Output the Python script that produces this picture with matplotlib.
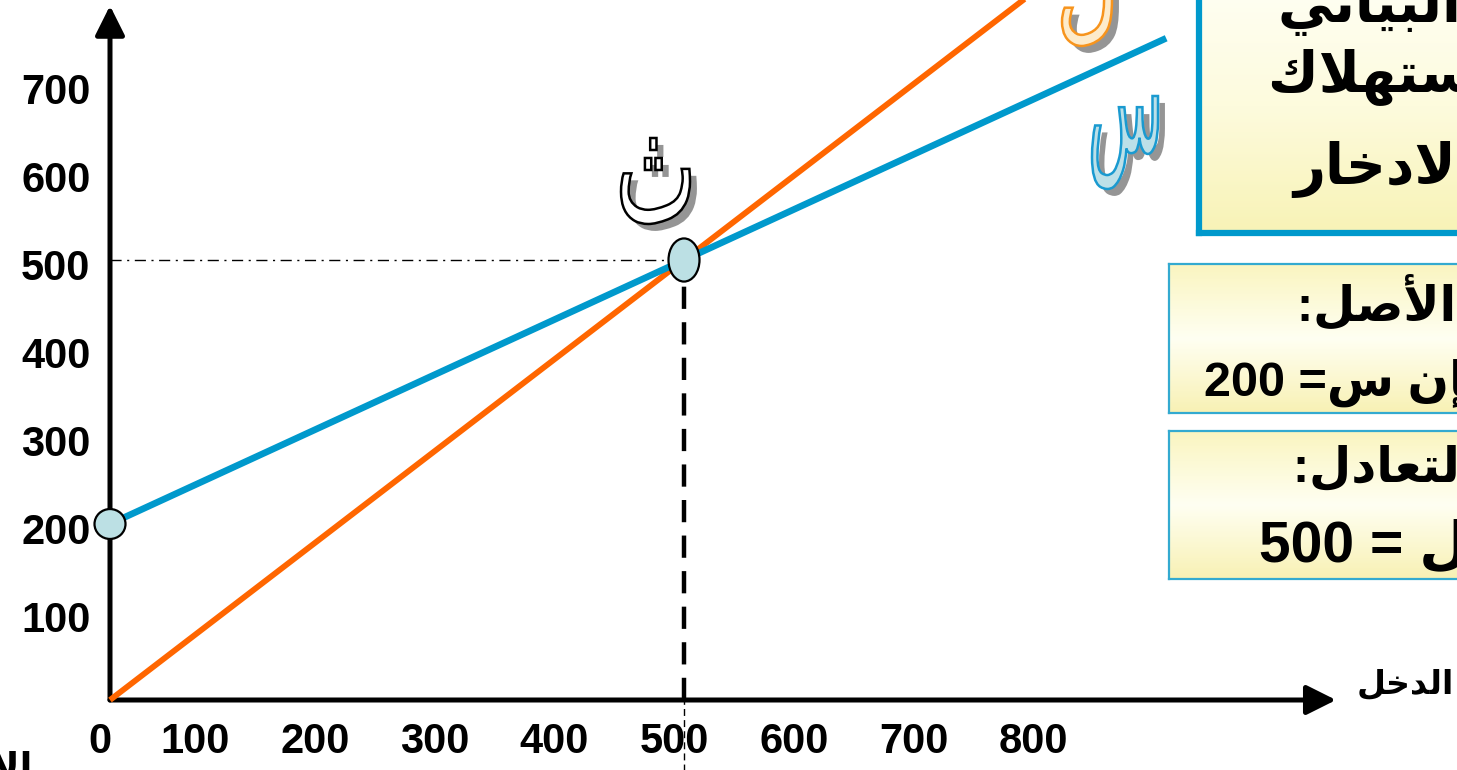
import re
import numpy as np
import matplotlib
matplotlib.use("Agg")
import matplotlib.pyplot as plt
import matplotlib.patheffects as pe
from matplotlib.patches import Ellipse, PathPatch
from matplotlib.textpath import TextPath
from matplotlib.font_manager import FontProperties
from matplotlib.transforms import offset_copy, Affine2D

# ---------------- data ----------------
income = [0, 500, 920]            # الدخل
consumption = [200, 500, 752]     # الاستهلاك  (س)
line45_x = [0, 810]               # خط 45 درجة (ل)
line45_y = [0, 810]
origin_pt = (0, 200)
breakeven_pt = (500, 500)
x_ticks = [0, 100, 200, 300, 400, 500, 600, 700, 800]
y_ticks = [100, 200, 300, 400, 500, 600, 700]

title_lines = ["التمثيل البياني", "لدالتي الاستهلاك", "والادخار"]
box2_lines = ["نقطة الأصل:", "عندما ل = 0 فإن س= 200"]
box3_lines = ["نقطة التعادل:", "س = ل = 500"]
x_label = "الدخل"
y_label = "الاستهلاك"
curve_letters = {"breakeven": "ث", "consumption": "س", "income": "ل"}

# ---------------- simple Arabic shaping ----------------
FORMS = {
    '\u0621': ('\uFE80', None, None, None),
    '\u0622': ('\uFE81', '\uFE82', None, None),
    '\u0623': ('\uFE83', '\uFE84', None, None),
    '\u0624': ('\uFE85', '\uFE86', None, None),
    '\u0625': ('\uFE87', '\uFE88', None, None),
    '\u0626': ('\uFE89', '\uFE8A', '\uFE8B', '\uFE8C'),
    '\u0627': ('\uFE8D', '\uFE8E', None, None),
    '\u0628': ('\uFE8F', '\uFE90', '\uFE91', '\uFE92'),
    '\u0629': ('\uFE93', '\uFE94', None, None),
    '\u062A': ('\uFE95', '\uFE96', '\uFE97', '\uFE98'),
    '\u062B': ('\uFE99', '\uFE9A', '\uFE9B', '\uFE9C'),
    '\u062C': ('\uFE9D', '\uFE9E', '\uFE9F', '\uFEA0'),
    '\u062D': ('\uFEA1', '\uFEA2', '\uFEA3', '\uFEA4'),
    '\u062E': ('\uFEA5', '\uFEA6', '\uFEA7', '\uFEA8'),
    '\u062F': ('\uFEA9', '\uFEAA', None, None),
    '\u0630': ('\uFEAB', '\uFEAC', None, None),
    '\u0631': ('\uFEAD', '\uFEAE', None, None),
    '\u0632': ('\uFEAF', '\uFEB0', None, None),
    '\u0633': ('\uFEB1', '\uFEB2', '\uFEB3', '\uFEB4'),
    '\u0634': ('\uFEB5', '\uFEB6', '\uFEB7', '\uFEB8'),
    '\u0635': ('\uFEB9', '\uFEBA', '\uFEBB', '\uFEBC'),
    '\u0636': ('\uFEBD', '\uFEBE', '\uFEBF', '\uFEC0'),
    '\u0637': ('\uFEC1', '\uFEC2', '\uFEC3', '\uFEC4'),
    '\u0638': ('\uFEC5', '\uFEC6', '\uFEC7', '\uFEC8'),
    '\u0639': ('\uFEC9', '\uFECA', '\uFECB', '\uFECC'),
    '\u063A': ('\uFECD', '\uFECE', '\uFECF', '\uFED0'),
    '\u0641': ('\uFED1', '\uFED2', '\uFED3', '\uFED4'),
    '\u0642': ('\uFED5', '\uFED6', '\uFED7', '\uFED8'),
    '\u0643': ('\uFED9', '\uFEDA', '\uFEDB', '\uFEDC'),
    '\u0644': ('\uFEDD', '\uFEDE', '\uFEDF', '\uFEE0'),
    '\u0645': ('\uFEE1', '\uFEE2', '\uFEE3', '\uFEE4'),
    '\u0646': ('\uFEE5', '\uFEE6', '\uFEE7', '\uFEE8'),
    '\u0647': ('\uFEE9', '\uFEEA', '\uFEEB', '\uFEEC'),
    '\u0648': ('\uFEED', '\uFEEE', None, None),
    '\u0649': ('\uFEEF', '\uFEF0', None, None),
    '\u064A': ('\uFEF1', '\uFEF2', '\uFEF3', '\uFEF4'),
}
LAMALEF = {'\u0622': ('\uFEF5', '\uFEF6'), '\u0623': ('\uFEF7', '\uFEF8'),
           '\u0625': ('\uFEF9', '\uFEFA'), '\u0627': ('\uFEFB', '\uFEFC')}


def _dual(c):
    return c in FORMS and FORMS[c][2] is not None


def shape(s):
    out = []
    n = len(s)
    i = 0
    while i < n:
        c = s[i]
        if c not in FORMS:
            out.append(c)
            i += 1
            continue
        prev = s[i - 1] if i > 0 else None
        jp = prev is not None and _dual(prev)
        if c == '\u0644' and i + 1 < n and s[i + 1] in LAMALEF:
            iso, fin = LAMALEF[s[i + 1]]
            out.append(fin if jp else iso)
            i += 2
            continue
        nxt = s[i + 1] if i + 1 < n else None
        jn = _dual(c) and nxt is not None and nxt in FORMS
        iso, fin, ini, med = FORMS[c]
        if jp and jn:
            out.append(med)
        elif jp:
            out.append(fin)
        elif jn:
            out.append(ini)
        else:
            out.append(iso)
        i += 1
    return ''.join(out)


def ar(s):
    sh = shape(s)
    runs = re.findall(r'[0-9A-Za-z.]+|[^0-9A-Za-z.]+', sh)
    return ''.join(r if re.match(r'[0-9A-Za-z]', r) else r[::-1]
                   for r in reversed(runs))


# ---------------- figure ----------------
W, H = 1457, 770
fig = plt.figure(figsize=(W / 100, H / 100), dpi=100)
fig.patch.set_facecolor('white')

SX, SY = 1.148, 0.88     # px per data unit
OX, OY = 110, 700        # pixel position of origin (top-left pixel coords)
ax = fig.add_axes([0, 0, 1, 1])
ax.set_xlim(-OX / SX, (W - OX) / SX)
ax.set_ylim((OY - H) / SY, OY / SY)
ax.axis('off')

FONT = ['Liberation Sans', 'DejaVu Sans']
AR_FONT = ['DejaVu Sans']


def px(x, y):
    """pixel (top-left origin) -> figure fraction"""
    return x / W, 1 - y / H


ORANGE = '#FF6600'
BLUE = '#0099CC'
PT_FILL = '#BCE0E4'

# reference lines
ax.plot([0, breakeven_pt[0]], [breakeven_pt[1], breakeven_pt[1]], color='black',
        lw=1.0, ls=(0, (8, 4, 1.5, 4)), zorder=2)
ax.plot([breakeven_pt[0], breakeven_pt[0]], [0, breakeven_pt[1]], color='black',
        lw=3.2, ls=(0, (5, 3)), zorder=2)
ax.plot([breakeven_pt[0], breakeven_pt[0]], [-90, 0], color='black',
        lw=1.0, ls=(0, (5, 3)), zorder=2)

# axes with arrows
arrow = dict(arrowstyle='-|>,head_length=1.0,head_width=0.5', lw=3.6,
             color='black', shrinkA=0, shrinkB=0, mutation_scale=18)
ax.annotate('', xy=(0, 789), xytext=(0, 0), arrowprops=arrow, zorder=3)
ax.annotate('', xy=(1068, 0), xytext=(0, 0), arrowprops=arrow, zorder=3)

# curves
ax.plot(line45_x, line45_y, color=ORANGE, lw=4.2, zorder=4, solid_capstyle='butt')
ax.plot(income, consumption, color=BLUE, lw=4.8, zorder=5, solid_capstyle='butt')

# points
ax.add_patch(Ellipse(origin_pt, 27, 34, facecolor=PT_FILL, edgecolor='black',
                     lw=1.6, zorder=6))
ax.add_patch(Ellipse(breakeven_pt, 27, 49, facecolor=PT_FILL, edgecolor='black',
                     lw=1.6, zorder=6))

# tick labels (label row is spaced a little wider than the axis scale)
for v in x_ticks:
    lx = max(v * 1.043 - 30, -9)
    ax.text(lx, -48, str(v), ha='center', va='center',
            fontsize=30, fontweight='bold', family=FONT, zorder=7)
ty = offset_copy(ax.transData, fig=fig, x=0, y=-9, units='dots')
for v in y_ticks:
    ax.text(-17, v, str(v), transform=ty, ha='right', va='center',
            fontsize=30, fontweight='bold', family=FONT, zorder=7)

# axis labels
fig.text(*px(1357, 684), ar(x_label), ha='left', va='center', fontsize=24,
         fontweight='bold', family=AR_FONT, zorder=8)
fig.text(*px(33, 770), ar(y_label), ha='right', va='center', fontsize=27,
         fontweight='bold', family=AR_FONT, zorder=8)


# big outlined letters with shadow, fitted into a pixel box
def big_letter(ch, x0, y0, x1, y1, fill, edge):
    tp = TextPath((0, 0), ch, size=100, prop=FontProperties(family='DejaVu Sans'))
    ext = tp.get_extents()
    tr = (Affine2D().translate(-ext.x0, -ext.y0)
          .scale((x1 - x0) / ext.width, (y1 - y0) / ext.height)
          .translate(x0, H - y1))
    patch = PathPatch(tp, facecolor=fill, edgecolor=edge, lw=1.8,
                      transform=tr, zorder=9)
    patch.set_path_effects([pe.SimplePatchShadow(offset=(5, -5),
                                                 shadow_rgbFace='#8a8a8a',
                                                 alpha=0.9),
                            pe.Normal()])
    fig.add_artist(patch)


big_letter(ar(curve_letters["breakeven"]), 621, 138, 690, 224, 'white', 'black')
big_letter(ar(curve_letters["consumption"]), 1092, 96, 1158, 189, '#BCE0E8', '#1A9AD0')
big_letter(ar(curve_letters["income"]), 1062, -70, 1112, 46, '#FDEBCB', '#F7941D')


# boxes with gradient
def grad_box(x0, y0, x1, y1, ec, lw, stops):
    l, b = px(x0, y1)
    r, t = px(x1, y0)
    bax = fig.add_axes([l, b, r - l, t - b], zorder=2)
    ys = np.linspace(0, 1, 200)
    pos = [s[0] for s in stops]
    cols = np.array([matplotlib.colors.to_rgb(s[1]) for s in stops])
    img = np.stack([np.interp(ys, pos, cols[:, k]) for k in range(3)], axis=-1)
    bax.imshow(img[:, None, :], aspect='auto', extent=[0, 1, 1, 0])
    bax.set_xlim(0, 1)
    bax.set_ylim(1, 0)
    bax.set_xticks([])
    bax.set_yticks([])
    for sp in bax.spines.values():
        sp.set_color(ec)
        sp.set_linewidth(lw)
    return bax


grad_box(1199, -20, 1500, 233, BLUE, 4.5,
         [(0, '#FFFFF4'), (0.5, '#FDFBDD'), (1, '#F8F3B6')])
grad_box(1169, 264, 1500, 413, '#33AAD0', 1.6,
         [(0, '#FAF5C0'), (0.5, '#FFFFF2'), (1, '#F8F1B4')])
grad_box(1169, 431, 1500, 579, '#33AAD0', 1.6,
         [(0, '#FAF5C0'), (0.5, '#FFFFF2'), (1, '#F8F1B4')])

AR_BOX = ['Liberation Sans', 'DejaVu Sans']
for (x, y, fs), s in zip([(1278, 8, 40), (1268, 78, 40), (1293, 170, 40)], title_lines):
    fig.text(*px(x, y), ar(s), ha='left', va='center', fontsize=fs,
             fontweight='bold', family=AR_BOX, zorder=10)
for (x, y, fs), s in zip([(1297, 302, 35), (1204, 383, 35)], box2_lines):
    fig.text(*px(x, y), ar(s), ha='left', va='center', fontsize=fs,
             fontweight='bold', family=AR_BOX, zorder=10)
for (x, y, fs), s in zip([(1293, 469, 35), (1259, 547, 41)], box3_lines):
    fig.text(*px(x, y), ar(s), ha='left', va='center', fontsize=fs,
             fontweight='bold', family=AR_BOX, zorder=10)

fig.savefig('out.png', dpi=100, facecolor='white')
